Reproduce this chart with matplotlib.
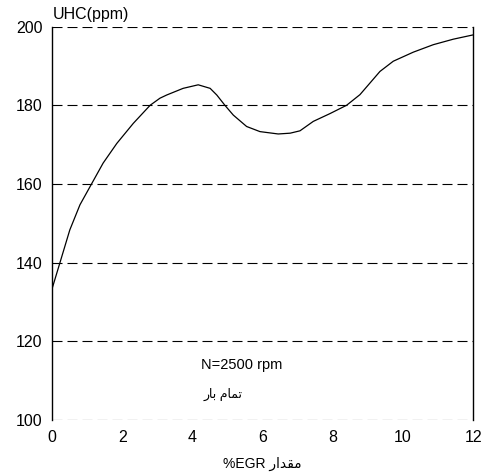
import numpy as np
import matplotlib.pyplot as plt

# values
egr = [0, 0.22, 0.5, 0.79, 1.12, 1.45, 1.84, 2.31, 2.79, 3.07, 3.26, 3.73,
       4.16, 4.5, 4.69, 4.92, 5.16, 5.54, 5.92, 6.44, 6.78, 7.06, 7.44,
       7.92, 8.39, 8.77, 9.06, 9.34, 9.72, 10.29, 10.86, 11.43, 12]
uhc = [133.5, 140, 148.3, 154.7, 160, 165.3, 170.3, 175.4, 180, 181.8,
       182.6, 184.3, 185.2, 184.3, 182.6, 180, 177.5, 174.6, 173.3, 172.7,
       172.9, 173.5, 175.9, 177.9, 180, 182.7, 185.7, 188.6, 191.2, 193.5,
       195.4, 196.8, 197.9]

xticks = [0, 2, 4, 6, 8, 10, 12]
yticks = [100, 120, 140, 160, 180, 200]

# arabic text in visual order, presentation forms (no shaping in matplotlib)
xlab = "%EGR " + "\ufead\ufe8d\ufeaa\ufed8\ufee3"   # مقدار %EGR
load = "\ufead\ufe8e\ufe91 \ufee1\ufe8e\ufee4\ufe97"  # تمام بار

plt.rcParams['font.family'] = ['Liberation Sans', 'DejaVu Sans']

fig = plt.figure(figsize=(4.93, 4.75), dpi=100)
ax = fig.add_axes([0.106, 0.116, 0.854, 0.828])

for y in yticks:
    ax.axhline(y, color='black', lw=0.8, dashes=(9, 4.5), zorder=1)

ax.plot(egr, uhc, color='black', lw=0.9, zorder=2)

ax.set_xlim(0, 12)
ax.set_ylim(100, 200)
ax.set_xticks(xticks)
ax.set_yticks(yticks)
ax.tick_params(length=0, labelsize=11.5, pad=7)
ax.spines['top'].set_visible(False)
ax.spines['bottom'].set_visible(False)
ax.spines['left'].set_linewidth(1.0)
ax.spines['right'].set_linewidth(1.0)

ax.set_xlabel(xlab, fontsize=10, labelpad=9)
ax.text(0.0, 1.012, "UHC(ppm)", transform=ax.transAxes, fontsize=11.5,
        ha='left', va='bottom')
ax.text(4.25, 114, "N=2500 rpm", fontsize=10.5, ha='left', va='center')
ax.text(4.3, 106.5, load, fontsize=9, ha='left', va='center')

fig.savefig("out.png", dpi=100)
